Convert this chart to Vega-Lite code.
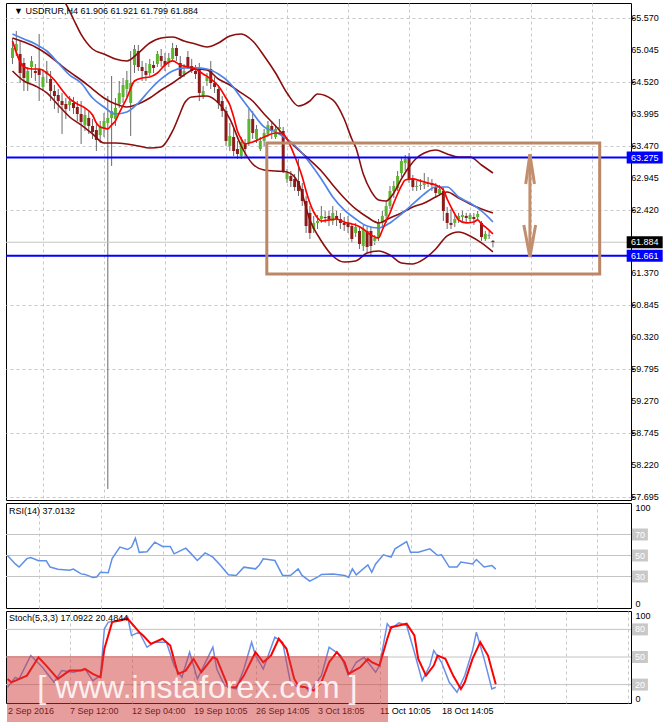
{
"$schema":"https://vega.github.io/schema/vega-lite/v6.json",
"background":"#ffffff",
"padding":{"left":2,"top":2,"right":0,"bottom":0},
"bounds":"flush",
"spacing":3,
"config":{"view":{"stroke":"#000000","strokeWidth":1},"axis":{"labelFont":"Liberation Sans","labelFontSize":9,"labelColor":"#000000","gridColor":"#c8c8c8","gridDash":[3,3],"domain":false,"labelOverlap":false},"text":{"font":"Liberation Sans"}},
"datasets":{
"candles":[
{"i":0,"o":64.913,"h":65.242,"l":64.814,"c":65.077},{"i":1,"o":65.028,"h":65.357,"l":64.946,"c":65.143},{"i":2,"o":64.979,"h":65.192,"l":64.502,"c":64.666},{"i":3,"o":64.831,"h":64.913,"l":64.370,"c":64.584},{"i":4,"o":64.502,"h":64.765,"l":64.370,"c":64.699},{"i":5,"o":64.765,"h":64.946,"l":64.584,"c":64.864},{"i":6,"o":64.699,"h":64.814,"l":64.535,"c":64.666},{"i":7,"o":64.732,"h":65.308,"l":64.206,"c":64.634},{"i":8,"o":64.436,"h":64.732,"l":64.370,"c":64.601},{"i":9,"o":64.650,"h":64.864,"l":64.502,"c":64.699},
{"i":10,"o":64.568,"h":64.699,"l":64.206,"c":64.370},{"i":11,"o":64.370,"h":64.469,"l":64.075,"c":64.288},{"i":12,"o":64.305,"h":64.403,"l":64.009,"c":64.206},{"i":13,"o":64.206,"h":64.338,"l":63.664,"c":64.140},{"i":14,"o":64.157,"h":64.255,"l":63.910,"c":64.075},{"i":15,"o":64.140,"h":64.288,"l":64.042,"c":64.206},{"i":16,"o":64.173,"h":64.272,"l":63.992,"c":64.091},{"i":17,"o":64.107,"h":64.206,"l":63.877,"c":63.992},{"i":18,"o":63.992,"h":64.206,"l":63.499,"c":63.861},{"i":19,"o":63.812,"h":64.075,"l":63.713,"c":63.976},
{"i":20,"o":63.927,"h":64.042,"l":63.664,"c":63.795},{"i":21,"o":63.795,"h":63.910,"l":63.581,"c":63.696},{"i":22,"o":63.729,"h":63.828,"l":63.384,"c":63.565},{"i":23,"o":63.647,"h":63.877,"l":63.516,"c":63.779},{"i":24,"o":63.746,"h":64.009,"l":63.614,"c":63.877},{"i":25,"o":63.844,"h":64.288,"l":57.828,"c":63.927},{"i":26,"o":63.927,"h":64.617,"l":63.138,"c":64.042},{"i":27,"o":63.910,"h":64.255,"l":63.795,"c":64.091},{"i":28,"o":64.157,"h":64.535,"l":64.091,"c":64.338},{"i":29,"o":64.272,"h":64.584,"l":64.173,"c":64.469},
{"i":30,"o":64.403,"h":64.699,"l":64.272,"c":64.551},{"i":31,"o":64.173,"h":65.028,"l":63.631,"c":64.502},{"i":32,"o":64.798,"h":65.127,"l":64.666,"c":65.061},{"i":33,"o":65.028,"h":65.127,"l":64.699,"c":64.765},{"i":34,"o":64.765,"h":64.864,"l":64.535,"c":64.699},{"i":35,"o":64.699,"h":64.831,"l":64.535,"c":64.634},{"i":36,"o":64.666,"h":64.897,"l":64.617,"c":64.814},{"i":37,"o":64.798,"h":64.864,"l":64.666,"c":64.749},{"i":38,"o":64.814,"h":65.028,"l":64.765,"c":64.979},{"i":39,"o":64.946,"h":65.061,"l":64.765,"c":64.864},
{"i":40,"o":64.864,"h":64.995,"l":64.699,"c":64.798},{"i":41,"o":64.847,"h":64.995,"l":64.765,"c":64.913},{"i":42,"o":64.897,"h":65.160,"l":64.864,"c":65.077},{"i":43,"o":65.077,"h":65.127,"l":64.864,"c":64.946},{"i":44,"o":64.831,"h":64.946,"l":64.568,"c":64.617},{"i":45,"o":64.650,"h":64.814,"l":64.601,"c":64.699},{"i":46,"o":64.929,"h":65.028,"l":64.732,"c":64.765},{"i":47,"o":64.781,"h":64.897,"l":64.666,"c":64.699},{"i":48,"o":64.699,"h":64.798,"l":64.568,"c":64.650},{"i":49,"o":64.732,"h":64.831,"l":64.206,"c":64.338},
{"i":50,"o":64.288,"h":64.453,"l":64.239,"c":64.370},{"i":51,"o":64.535,"h":64.666,"l":64.453,"c":64.601},{"i":52,"o":64.732,"h":64.864,"l":64.403,"c":64.502},{"i":53,"o":64.502,"h":64.601,"l":64.338,"c":64.436},{"i":54,"o":64.403,"h":64.469,"l":64.075,"c":64.173},{"i":55,"o":64.206,"h":64.288,"l":63.943,"c":64.042},{"i":56,"o":64.042,"h":64.107,"l":63.466,"c":63.549},{"i":57,"o":63.466,"h":63.844,"l":63.384,"c":63.631},{"i":58,"o":63.614,"h":63.746,"l":63.302,"c":63.384},{"i":59,"o":63.417,"h":63.549,"l":63.253,"c":63.335},
{"i":60,"o":63.302,"h":63.614,"l":63.253,"c":63.532},{"i":61,"o":63.516,"h":63.581,"l":63.286,"c":63.417},{"i":62,"o":63.516,"h":64.075,"l":63.466,"c":63.910},{"i":63,"o":63.910,"h":64.042,"l":63.581,"c":63.680},{"i":64,"o":63.581,"h":63.812,"l":63.516,"c":63.746},{"i":65,"o":63.417,"h":63.614,"l":63.384,"c":63.549},{"i":66,"o":63.549,"h":63.746,"l":63.466,"c":63.680},{"i":67,"o":63.664,"h":63.877,"l":63.614,"c":63.812},{"i":68,"o":63.795,"h":63.877,"l":63.581,"c":63.713},{"i":69,"o":63.614,"h":63.812,"l":63.581,"c":63.746},
{"i":70,"o":63.746,"h":63.910,"l":63.680,"c":63.779},{"i":71,"o":63.713,"h":63.779,"l":63.022,"c":63.055},{"i":72,"o":62.924,"h":63.088,"l":62.858,"c":63.022},{"i":73,"o":62.973,"h":63.055,"l":62.792,"c":62.891},{"i":74,"o":62.924,"h":63.006,"l":62.727,"c":62.792},{"i":75,"o":62.891,"h":63.253,"l":62.644,"c":62.727},{"i":76,"o":62.759,"h":62.858,"l":62.480,"c":62.562},{"i":77,"o":62.562,"h":62.644,"l":62.036,"c":62.151},{"i":78,"o":62.365,"h":62.480,"l":61.937,"c":62.036},{"i":79,"o":62.102,"h":62.316,"l":62.036,"c":62.201},
{"i":80,"o":62.201,"h":62.332,"l":62.102,"c":62.233},{"i":81,"o":62.266,"h":62.480,"l":62.201,"c":62.316},{"i":82,"o":62.299,"h":62.398,"l":62.201,"c":62.283},{"i":83,"o":62.316,"h":62.398,"l":62.151,"c":62.266},{"i":84,"o":62.233,"h":62.480,"l":62.168,"c":62.365},{"i":85,"o":62.316,"h":62.398,"l":62.151,"c":62.266},{"i":86,"o":62.266,"h":62.365,"l":62.102,"c":62.201},{"i":87,"o":62.201,"h":62.299,"l":62.069,"c":62.168},{"i":88,"o":62.201,"h":62.316,"l":62.036,"c":62.135},{"i":89,"o":62.151,"h":62.201,"l":61.872,"c":61.937},
{"i":90,"o":62.036,"h":62.201,"l":61.970,"c":62.135},{"i":91,"o":62.069,"h":62.135,"l":61.773,"c":61.855},{"i":92,"o":61.822,"h":62.168,"l":61.740,"c":62.102},{"i":93,"o":62.069,"h":62.135,"l":61.707,"c":61.806},{"i":94,"o":62.069,"h":62.135,"l":61.674,"c":61.822},{"i":95,"o":61.905,"h":62.003,"l":61.839,"c":61.954},{"i":96,"o":61.954,"h":62.266,"l":61.905,"c":62.201},{"i":97,"o":62.201,"h":62.398,"l":62.135,"c":62.316},{"i":98,"o":62.316,"h":62.562,"l":62.201,"c":62.480},{"i":99,"o":62.480,"h":62.809,"l":62.431,"c":62.727},
{"i":100,"o":62.727,"h":62.891,"l":62.612,"c":62.809},{"i":101,"o":62.776,"h":63.055,"l":62.727,"c":62.973},{"i":102,"o":63.022,"h":63.286,"l":62.957,"c":63.220},{"i":103,"o":63.187,"h":63.318,"l":63.055,"c":63.253},{"i":104,"o":63.269,"h":63.351,"l":62.858,"c":62.924},{"i":105,"o":62.924,"h":62.990,"l":62.727,"c":62.792},{"i":106,"o":62.792,"h":62.891,"l":62.727,"c":62.809},{"i":107,"o":62.809,"h":62.924,"l":62.743,"c":62.825},{"i":108,"o":62.825,"h":63.022,"l":62.759,"c":62.858},{"i":109,"o":62.858,"h":62.957,"l":62.792,"c":62.842},
{"i":110,"o":62.858,"h":62.924,"l":62.727,"c":62.825},{"i":111,"o":62.792,"h":62.858,"l":62.628,"c":62.694},{"i":112,"o":62.677,"h":62.825,"l":62.644,"c":62.759},{"i":113,"o":62.727,"h":62.792,"l":62.233,"c":62.398},{"i":114,"o":62.365,"h":62.464,"l":62.102,"c":62.201},{"i":115,"o":62.201,"h":62.431,"l":62.102,"c":62.168},{"i":116,"o":62.201,"h":62.332,"l":62.135,"c":62.266},{"i":117,"o":62.266,"h":62.365,"l":62.201,"c":62.316},{"i":118,"o":62.299,"h":62.398,"l":62.233,"c":62.332},{"i":119,"o":62.316,"h":62.365,"l":62.201,"c":62.283},
{"i":120,"o":62.266,"h":62.365,"l":62.201,"c":62.332},{"i":121,"o":62.299,"h":62.365,"l":62.168,"c":62.266},{"i":122,"o":62.299,"h":62.398,"l":62.250,"c":62.348},{"i":123,"o":62.201,"h":62.233,"l":61.905,"c":61.970},{"i":124,"o":61.937,"h":62.069,"l":61.905,"c":62.020},{"i":125,"o":61.987,"h":62.069,"l":61.937,"c":62.003},{"i":126,"o":61.906,"h":61.921,"l":61.799,"c":61.884}
],
"red":[{"i":0,"p":65.192},{"i":3,"p":64.765},{"i":5,"p":64.732},{"i":7,"p":64.732},{"i":9,"p":64.666},{"i":11,"p":64.551},{"i":13,"p":64.387},{"i":15,"p":64.239},{"i":17,"p":64.157},{"i":19,"p":64.091},{"i":21,"p":63.976},{"i":22,"p":63.844},{"i":23,"p":63.779},{"i":24,"p":63.762},{"i":25,"p":63.746},{"i":26,"p":63.812},{"i":27,"p":63.877},{"i":28,"p":64.009},{"i":30,"p":64.255},{"i":32,"p":64.535},{"i":34,"p":64.584},{"i":36,"p":64.601},{"i":38,"p":64.666},{"i":40,"p":64.798},{"i":42,"p":64.864},{"i":44,"p":64.798},{"i":46,"p":64.765},{"i":48,"p":64.732},{"i":50,"p":64.650},{"i":52,"p":64.568},{"i":54,"p":64.453},{"i":56,"p":64.255},{"i":57,"p":64.140},{"i":58,"p":63.943},{"i":59,"p":63.713},{"i":60,"p":63.581},{"i":61,"p":63.499},{"i":63,"p":63.532},{"i":66,"p":63.614},{"i":69,"p":63.680},{"i":71,"p":63.664},{"i":72,"p":63.581},{"i":73,"p":63.450},{"i":74,"p":63.302},{"i":75,"p":63.138},{"i":76,"p":62.957},{"i":77,"p":62.727},{"i":78,"p":62.529},{"i":79,"p":62.381},{"i":80,"p":62.283},{"i":81,"p":62.233},{"i":83,"p":62.250},{"i":85,"p":62.266},{"i":87,"p":62.217},{"i":89,"p":62.184},{"i":90,"p":62.168},{"i":92,"p":62.102},{"i":94,"p":62.003},{"i":96,"p":61.954},{"i":97,"p":62.085},{"i":98,"p":62.233},{"i":99,"p":62.365},{"i":100,"p":62.529},{"i":101,"p":62.677},{"i":102,"p":62.809},{"i":103,"p":62.907},{"i":105,"p":62.924},{"i":107,"p":62.891},{"i":109,"p":62.858},{"i":111,"p":62.825},{"i":112,"p":62.792},{"i":113,"p":62.743},{"i":114,"p":62.595},{"i":115,"p":62.464},{"i":116,"p":62.348},{"i":117,"p":62.250},{"i":119,"p":62.201},{"i":121,"p":62.217},{"i":122,"p":62.250},{"i":123,"p":62.184},{"i":124,"p":62.135},{"i":126,"p":62.020}],
"blue":[{"i":0,"p":65.308},{"i":3,"p":65.225},{"i":6,"p":65.143},{"i":9,"p":65.028},{"i":12,"p":64.831},{"i":15,"p":64.633},{"i":18,"p":64.502},{"i":21,"p":64.255},{"i":24,"p":64.107},{"i":27,"p":63.992},{"i":30,"p":64.025},{"i":33,"p":64.173},{"i":36,"p":64.387},{"i":39,"p":64.568},{"i":42,"p":64.699},{"i":45,"p":64.749},{"i":48,"p":64.749},{"i":51,"p":64.732},{"i":54,"p":64.650},{"i":57,"p":64.502},{"i":60,"p":64.255},{"i":63,"p":64.009},{"i":66,"p":63.779},{"i":69,"p":63.697},{"i":72,"p":63.581},{"i":75,"p":63.417},{"i":78,"p":63.187},{"i":81,"p":62.924},{"i":84,"p":62.628},{"i":87,"p":62.414},{"i":90,"p":62.266},{"i":93,"p":62.151},{"i":96,"p":62.118},{"i":99,"p":62.201},{"i":102,"p":62.348},{"i":105,"p":62.513},{"i":108,"p":62.677},{"i":111,"p":62.792},{"i":114,"p":62.792},{"i":117,"p":62.628},{"i":120,"p":62.529},{"i":123,"p":62.398},{"i":126,"p":62.217}],
"mid":[{"i":0,"p":65.242},{"i":3,"p":65.176},{"i":6,"p":65.094},{"i":9,"p":64.979},{"i":12,"p":64.831},{"i":15,"p":64.683},{"i":18,"p":64.551},{"i":21,"p":64.403},{"i":24,"p":64.255},{"i":27,"p":64.157},{"i":30,"p":64.107},{"i":33,"p":64.157},{"i":36,"p":64.255},{"i":39,"p":64.387},{"i":42,"p":64.502},{"i":45,"p":64.633},{"i":48,"p":64.732},{"i":51,"p":64.716},{"i":54,"p":64.568},{"i":57,"p":64.469},{"i":60,"p":64.338},{"i":63,"p":64.206},{"i":66,"p":63.992},{"i":69,"p":63.795},{"i":72,"p":63.581},{"i":75,"p":63.401},{"i":78,"p":63.236},{"i":81,"p":63.055},{"i":84,"p":62.825},{"i":87,"p":62.611},{"i":90,"p":62.431},{"i":93,"p":62.299},{"i":96,"p":62.201},{"i":99,"p":62.283},{"i":102,"p":62.365},{"i":105,"p":62.464},{"i":108,"p":62.529},{"i":111,"p":62.628},{"i":114,"p":62.710},{"i":117,"p":62.611},{"i":120,"p":62.513},{"i":123,"p":62.431},{"i":126,"p":62.365}],
"up":[{"i":0,"p":66.30},{"i":3,"p":66.35},{"i":6,"p":66.30},{"i":9,"p":66.15},{"i":12,"p":65.95},{"i":14,"p":65.80},{"i":16,"p":65.55},{"i":18,"p":65.30},{"i":21,"p":65.061},{"i":24,"p":64.979},{"i":27,"p":64.897},{"i":30,"p":64.864},{"i":33,"p":64.995},{"i":36,"p":65.160},{"i":39,"p":65.242},{"i":42,"p":65.258},{"i":45,"p":65.192},{"i":48,"p":65.143},{"i":51,"p":65.094},{"i":54,"p":65.160},{"i":57,"p":65.275},{"i":60,"p":65.308},{"i":63,"p":65.192},{"i":66,"p":64.946},{"i":69,"p":64.666},{"i":72,"p":64.338},{"i":75,"p":64.124},{"i":78,"p":64.206},{"i":80,"p":64.321},{"i":84,"p":64.223},{"i":87,"p":63.910},{"i":89,"p":63.581},{"i":90,"p":63.450},{"i":92,"p":63.006},{"i":94,"p":62.727},{"i":96,"p":62.579},{"i":98,"p":62.562},{"i":100,"p":62.694},{"i":102,"p":62.924},{"i":104,"p":63.121},{"i":106,"p":63.269},{"i":108,"p":63.351},{"i":111,"p":63.401},{"i":114,"p":63.335},{"i":117,"p":63.285},{"i":120,"p":63.285},{"i":123,"p":63.154},{"i":126,"p":63.022}],
"low":[{"i":0,"p":64.699},{"i":3,"p":64.535},{"i":6,"p":64.453},{"i":9,"p":64.338},{"i":12,"p":64.140},{"i":15,"p":63.943},{"i":18,"p":63.812},{"i":21,"p":63.664},{"i":24,"p":63.516},{"i":27,"p":63.516},{"i":30,"p":63.499},{"i":33,"p":63.466},{"i":36,"p":63.433},{"i":39,"p":63.450},{"i":42,"p":63.713},{"i":44,"p":64.009},{"i":45,"p":64.157},{"i":47,"p":64.272},{"i":51,"p":64.288},{"i":54,"p":64.173},{"i":57,"p":63.910},{"i":60,"p":63.466},{"i":63,"p":63.170},{"i":66,"p":63.072},{"i":69,"p":63.055},{"i":72,"p":63.039},{"i":75,"p":62.858},{"i":78,"p":62.250},{"i":81,"p":61.905},{"i":84,"p":61.658},{"i":87,"p":61.559},{"i":90,"p":61.576},{"i":93,"p":61.707},{"i":96,"p":61.740},{"i":99,"p":61.674},{"i":102,"p":61.543},{"i":105,"p":61.527},{"i":108,"p":61.609},{"i":111,"p":61.773},{"i":114,"p":61.987},{"i":117,"p":62.053},{"i":120,"p":61.987},{"i":123,"p":61.872},{"i":126,"p":61.724}],
"rsi":[{"i":0,"v":50},{"i":2,"v":42},{"i":3,"v":39},{"i":5,"v":47},{"i":6,"v":48},{"i":8,"v":45},{"i":10,"v":45},{"i":11,"v":39},{"i":13,"v":37},{"i":16,"v":36},{"i":17,"v":37},{"i":19,"v":32.5},{"i":20,"v":32},{"i":22,"v":29},{"i":23,"v":29.5},{"i":24,"v":34},{"i":26,"v":33.5},{"i":27,"v":47},{"i":29,"v":58},{"i":31,"v":55.7},{"i":32,"v":58},{"i":33,"v":66.5},{"i":34,"v":53},{"i":36,"v":53.6},{"i":38,"v":62.7},{"i":40,"v":58.6},{"i":42,"v":58.6},{"i":43,"v":51.6},{"i":46,"v":57},{"i":47,"v":53.2},{"i":49,"v":45.2},{"i":51,"v":52.5},{"i":53,"v":48.4},{"i":55,"v":40.5},{"i":57,"v":31.6},{"i":59,"v":30.9},{"i":61,"v":38.9},{"i":64,"v":37.3},{"i":65,"v":41},{"i":66,"v":46.8},{"i":69,"v":45.2},{"i":71,"v":31},{"i":73,"v":31},{"i":75,"v":37.3},{"i":76,"v":31},{"i":78,"v":25.5},{"i":80,"v":29.3},{"i":81,"v":32},{"i":84,"v":32.4},{"i":87,"v":31},{"i":88,"v":29.3},{"i":89,"v":37.3},{"i":90,"v":31.6},{"i":93,"v":41},{"i":94,"v":34},{"i":95,"v":42},{"i":97,"v":50.6},{"i":99,"v":48.4},{"i":100,"v":56.3},{"i":103,"v":63.3},{"i":104,"v":53.2},{"i":106,"v":53.2},{"i":109,"v":56.3},{"i":111,"v":50},{"i":112,"v":50.6},{"i":114,"v":39},{"i":116,"v":39},{"i":117,"v":43.7},{"i":120,"v":42},{"i":121,"v":46.2},{"i":123,"v":39},{"i":125,"v":40.5},{"i":126,"v":37.01}],
"stk":[{"i":0,"v":17},{"i":2,"v":27.9},{"i":3,"v":26.2},{"i":6,"v":51.6},{"i":9,"v":38.8},{"i":12,"v":22.5},{"i":14,"v":35.2},{"i":17,"v":33.4},{"i":20,"v":37},{"i":22,"v":24.3},{"i":24,"v":29.8},{"i":25,"v":80.7},{"i":26,"v":87.9},{"i":29,"v":89.7},{"i":31,"v":93.3},{"i":32,"v":73.4},{"i":34,"v":77},{"i":36,"v":60.6},{"i":38,"v":66.1},{"i":41,"v":66.1},{"i":43,"v":40.7},{"i":45,"v":27.9},{"i":47,"v":55.2},{"i":49,"v":26.2},{"i":53,"v":60.6},{"i":54,"v":37},{"i":56,"v":18.9},{"i":59,"v":15.3},{"i":61,"v":37},{"i":63,"v":66.1},{"i":64,"v":51.6},{"i":66,"v":37},{"i":69,"v":71.5},{"i":71,"v":66.1},{"i":73,"v":22.5},{"i":75,"v":17},{"i":77,"v":17},{"i":78,"v":11.6},{"i":81,"v":29.8},{"i":83,"v":60.6},{"i":86,"v":51.6},{"i":88,"v":29.8},{"i":90,"v":44.3},{"i":92,"v":49.7},{"i":95,"v":33.4},{"i":96,"v":40.7},{"i":98,"v":86.2},{"i":99,"v":80.7},{"i":101,"v":87.2},{"i":103,"v":84.3},{"i":105,"v":55.2},{"i":107,"v":24.3},{"i":109,"v":40.7},{"i":110,"v":57},{"i":112,"v":44.3},{"i":114,"v":22.5},{"i":116,"v":11.6},{"i":118,"v":29.8},{"i":120,"v":57},{"i":121,"v":77},{"i":123,"v":48},{"i":125,"v":15.3},{"i":126,"v":17.09}],
"std":[{"i":0,"v":26},{"i":1,"v":22.5},{"i":5,"v":29.8},{"i":8,"v":49.7},{"i":10,"v":40.7},{"i":13,"v":26.2},{"i":16,"v":35.2},{"i":19,"v":35.2},{"i":20,"v":37},{"i":22,"v":31.6},{"i":24,"v":27.9},{"i":25,"v":58.9},{"i":27,"v":87.9},{"i":29,"v":89.7},{"i":31,"v":91.6},{"i":34,"v":77},{"i":35,"v":73.4},{"i":37,"v":64.3},{"i":40,"v":69.8},{"i":42,"v":62.5},{"i":44,"v":31.6},{"i":46,"v":35.2},{"i":48,"v":48},{"i":50,"v":33.4},{"i":53,"v":49.7},{"i":54,"v":48},{"i":57,"v":17},{"i":59,"v":17},{"i":61,"v":29.8},{"i":64,"v":55.2},{"i":66,"v":44.3},{"i":68,"v":51.6},{"i":70,"v":69.8},{"i":72,"v":58.9},{"i":74,"v":26.2},{"i":75,"v":18.9},{"i":77,"v":17},{"i":79,"v":13.4},{"i":81,"v":22.5},{"i":83,"v":44.3},{"i":85,"v":55.2},{"i":87,"v":44.3},{"i":88,"v":31.6},{"i":91,"v":38.8},{"i":93,"v":48},{"i":94,"v":44.3},{"i":96,"v":40.7},{"i":98,"v":69.8},{"i":99,"v":82.4},{"i":101,"v":84.3},{"i":103,"v":86.2},{"i":105,"v":73.4},{"i":106,"v":48},{"i":108,"v":29.8},{"i":110,"v":40.7},{"i":111,"v":51.6},{"i":113,"v":48},{"i":115,"v":29.8},{"i":117,"v":15.3},{"i":118,"v":22.5},{"i":120,"v":48},{"i":122,"v":66.1},{"i":124,"v":51.6},{"i":126,"v":20.48}],
"pticks":[{"v":57.695},{"v":58.22},{"v":58.745},{"v":59.27},{"v":59.795},{"v":60.32},{"v":60.845},{"v":61.37},{"v":62.42},{"v":62.945},{"v":63.47},{"v":63.995},{"v":64.52},{"v":65.045},{"v":65.57}]
},
"vconcat":[
{"width":625,"height":497,
"layer":[
{"data":{"name":"candles"},"mark":{"type":"rule","color":"#6a6a6a","strokeWidth":1},
"encoding":{"x":{"field":"i","type":"quantitative","scale":{"domain":[-0.387,160.9],"nice":false,"zero":false},"axis":{"values":[8,16,24,32,40,48,56,64,72,80,88,96,104,112,120,128,136,144,152,160],"labels":false,"ticks":false,"grid":true,"title":null}},
"y":{"field":"l","type":"quantitative","scale":{"domain":[57.646,65.817],"nice":false,"zero":false},"axis":{"orient":"right","values":[57.695,58.22,58.745,59.27,59.795,60.32,60.845,61.37,62.42,62.945,63.47,63.995,64.52,65.045,65.57],"labels":false,"grid":true,"ticks":true,"tickSize":3,"tickColor":"#000000","title":null}},
"y2":{"field":"h"}}},
{"data":{"values":[{"p":61.884}]},"mark":{"type":"rule","color":"#c4c4c4","strokeWidth":1},"encoding":{"y":{"field":"p","type":"quantitative"}}},
{"data":{"name":"candles"},"mark":{"type":"bar","size":3},
"encoding":{"x":{"field":"i","type":"quantitative"},"y":{"field":"o","type":"quantitative"},"y2":{"field":"c"},
"color":{"condition":{"test":"datum.c >= datum.o","value":"#5cb531"},"value":"#8b1c1c"}}},
{"data":{"name":"up"},"mark":{"type":"line","color":"#8b0e0e","strokeWidth":1.6,"interpolate":"monotone","clip":true},"encoding":{"x":{"field":"i","type":"quantitative"},"y":{"field":"p","type":"quantitative"}}},
{"data":{"name":"low"},"mark":{"type":"line","color":"#8b0e0e","strokeWidth":1.6,"interpolate":"monotone","clip":true},"encoding":{"x":{"field":"i","type":"quantitative"},"y":{"field":"p","type":"quantitative"}}},
{"data":{"name":"mid"},"mark":{"type":"line","color":"#8b0e0e","strokeWidth":1.6,"interpolate":"monotone","clip":true},"encoding":{"x":{"field":"i","type":"quantitative"},"y":{"field":"p","type":"quantitative"}}},
{"data":{"name":"blue"},"mark":{"type":"line","color":"#4f84ea","strokeWidth":1.7,"interpolate":"monotone","clip":true},"encoding":{"x":{"field":"i","type":"quantitative"},"y":{"field":"p","type":"quantitative"}}},
{"data":{"name":"red"},"mark":{"type":"line","color":"#ff0000","strokeWidth":1.7,"interpolate":"monotone","clip":true},"encoding":{"x":{"field":"i","type":"quantitative"},"y":{"field":"p","type":"quantitative"}}},
{"data":{"values":[{"p":63.275},{"p":61.661}]},"mark":{"type":"rule","color":"#0000ff","strokeWidth":2},"encoding":{"y":{"field":"p","type":"quantitative"}}},
{"data":{"values":[{"x1":66.7,"x2":154.0,"y1":63.515,"y2":61.361}]},"mark":{"type":"rect","fillOpacity":0,"stroke":"#bb8766","strokeWidth":3},"encoding":{"x":{"field":"x1","type":"quantitative"},"x2":{"field":"x2"},"y":{"field":"y1","type":"quantitative"},"y2":{"field":"y2"}}},
{"data":{"values":[{"g":"s","k":0,"x":135.7,"y":63.33},{"g":"s","k":1,"x":135.7,"y":61.642},{"g":"t","k":0,"x":134.6,"y":62.842},{"g":"t","k":1,"x":135.7,"y":63.33},{"g":"t","k":2,"x":136.9,"y":62.842},{"g":"b","k":0,"x":134.1,"y":62.168},{"g":"b","k":1,"x":135.7,"y":61.642},{"g":"b","k":2,"x":137.2,"y":62.168}]},
"mark":{"type":"line","color":"#c28f6e","strokeWidth":3},"encoding":{"x":{"field":"x","type":"quantitative"},"y":{"field":"y","type":"quantitative"},"detail":{"field":"g"},"order":{"field":"k"}}},
{"data":{"name":"pticks"},"mark":{"type":"text","fontSize":9,"color":"#000000","align":"left","baseline":"middle"},
"encoding":{"x":{"datum":162.3,"type":"quantitative"},"y":{"field":"v","type":"quantitative"},"text":{"field":"v","type":"quantitative","format":".3f"}}},
{"data":{"values":[{"p":63.275,"t":"63.275","k":"lvl"},{"p":61.661,"t":"61.661","k":"lvl"},{"p":61.884,"t":"61.884","k":"bid"}]},
"mark":{"type":"point","shape":"M-1,-0.333H1V0.333H-1Z","size":1296,"filled":true,"opacity":1},
"encoding":{"x":{"datum":165.8,"type":"quantitative"},"y":{"field":"p","type":"quantitative"},"color":{"field":"k","type":"nominal","scale":{"domain":["lvl","bid"],"range":["#0000ff","#000000"]},"legend":null}}},
{"data":{"values":[{"p":63.275,"t":"63.275"},{"p":61.661,"t":"61.661"},{"p":61.884,"t":"61.884"}]},
"mark":{"type":"text","fontSize":9,"color":"#ffffff","align":"center","baseline":"middle"},
"encoding":{"x":{"datum":165.8,"type":"quantitative"},"y":{"field":"p","type":"quantitative"},"text":{"field":"t"}}},
{"data":{"values":[{"t":"▼ USDRUR,H4  61.906 61.921 61.799 61.884"}]},"mark":{"type":"text","fontSize":9,"color":"#000000","align":"left","baseline":"middle"},
"encoding":{"x":{"datum":0.4,"type":"quantitative"},"y":{"datum":65.686,"type":"quantitative"},"text":{"field":"t"}}}
]},
{"width":625,"height":105,
"layer":[
{"data":{"values":[{"v":70},{"v":50},{"v":30}]},"mark":{"type":"rule","color":"#c4c4c4","strokeWidth":1},
"encoding":{"y":{"field":"v","type":"quantitative","scale":{"domain":[0,100],"nice":false},"axis":{"orient":"right","values":[0,100],"labelFlush":true,"ticks":false,"grid":false,"labelPadding":4,"title":null}}}},
{"data":{"name":"rsi"},"mark":{"type":"line","color":"#5f8fe8","strokeWidth":1.5},
"encoding":{"x":{"field":"i","type":"quantitative","scale":{"domain":[-0.387,160.9],"nice":false,"zero":false},"axis":{"values":[8,16,24,32,40,48,56,64,72,80,88,96,104,112,120,128,136,144,152,160],"labels":false,"ticks":false,"grid":true,"title":null}},"y":{"field":"v","type":"quantitative"}}},
{"data":{"values":[{"v":70},{"v":50},{"v":30}]},"mark":{"type":"point","shape":"M-1,-0.75H1V0.75H-1Z","size":256,"filled":true,"opacity":1,"color":"#c8c8c8"},
"encoding":{"x":{"datum":163.2,"type":"quantitative"},"y":{"field":"v","type":"quantitative"}}},
{"data":{"values":[{"v":70},{"v":50},{"v":30}]},"mark":{"type":"text","fontSize":9,"color":"#ffffff","align":"center","baseline":"middle"},
"encoding":{"x":{"datum":163.2,"type":"quantitative"},"y":{"field":"v","type":"quantitative"},"text":{"field":"v","type":"quantitative"}}},
{"data":{"values":[{"t":"RSI(14) 37.0132"}]},"mark":{"type":"text","fontSize":9,"color":"#000000","align":"left","baseline":"middle"},
"encoding":{"x":{"datum":0.4,"type":"quantitative"},"y":{"datum":92.4,"type":"quantitative"},"text":{"field":"t"}}}
]},
{"width":625,"height":92,
"layer":[
{"data":{"values":[{"v":80},{"v":50},{"v":20}]},"mark":{"type":"rule","color":"#c4c4c4","strokeWidth":1},
"encoding":{"y":{"field":"v","type":"quantitative","scale":{"domain":[0,100],"nice":false},"axis":{"orient":"right","values":[0,100],"labelFlush":true,"ticks":false,"grid":false,"labelPadding":4,"title":null}}}},
{"data":{"name":"stk"},"mark":{"type":"line","color":"#6b8fe6","strokeWidth":1.5},
"encoding":{"x":{"field":"i","type":"quantitative","scale":{"domain":[-0.387,160.9],"nice":false,"zero":false},"axis":{"values":[0,8,16,24,32,40,48,56,64,72,80,88,96,104,112,120,128,136,144,152,160],"labelExpr":"datum.value==0?'2 Sep 2016':datum.value==16?'7 Sep 12:00':datum.value==32?'12 Sep 04:00':datum.value==48?'19 Sep 10:05':datum.value==64?'26 Sep 14:05':datum.value==80?'3 Oct 18:05':datum.value==96?'11 Oct 10:05':datum.value==112?'18 Oct 14:05':''","labelAlign":"left","labelPadding":3,"labelOverlap":false,"labelFlush":false,"ticks":false,"grid":true,"gridOpacity":{"condition":{"test":"datum.value==0","value":0},"value":1},"title":null}},"y":{"field":"v","type":"quantitative"}}},
{"data":{"name":"std"},"mark":{"type":"line","color":"#ff0000","strokeWidth":2},"encoding":{"x":{"field":"i","type":"quantitative"},"y":{"field":"v","type":"quantitative"}}},
{"data":{"values":[{"v":80},{"v":50},{"v":20}]},"mark":{"type":"point","shape":"M-1,-0.75H1V0.75H-1Z","size":256,"filled":true,"opacity":1,"color":"#c8c8c8"},
"encoding":{"x":{"datum":163.2,"type":"quantitative"},"y":{"field":"v","type":"quantitative"}}},
{"data":{"values":[{"v":80},{"v":50},{"v":20}]},"mark":{"type":"text","fontSize":9,"color":"#ffffff","align":"center","baseline":"middle"},
"encoding":{"x":{"datum":163.2,"type":"quantitative"},"y":{"field":"v","type":"quantitative"},"text":{"field":"v","type":"quantitative"}}},
{"data":{"values":[{"t":"Stoch(5,3,3) 17.0922 20.4844"}]},"mark":{"type":"text","fontSize":9,"color":"#000000","align":"left","baseline":"middle"},
"encoding":{"x":{"datum":0.4,"type":"quantitative"},"y":{"datum":92.4,"type":"quantitative"},"text":{"field":"t"}}},
{"data":{"values":[{"x1":-0.13,"x2":98.2,"y1":51,"y2":-21.7}]},"mark":{"type":"rect","color":"#d23c3c","opacity":0.5},
"encoding":{"x":{"field":"x1","type":"quantitative"},"x2":{"field":"x2"},"y":{"field":"y1","type":"quantitative"},"y2":{"field":"y2"}}},
{"data":{"values":[{"t":"[  www.instaforex.com  ]"}]},"mark":{"type":"text","fontSize":32,"color":"#ffffff","opacity":0.85,"align":"center","baseline":"alphabetic"},
"encoding":{"x":{"datum":49,"type":"quantitative"},"y":{"datum":5,"type":"quantitative"},"text":{"field":"t"}}}
]}
]
}
